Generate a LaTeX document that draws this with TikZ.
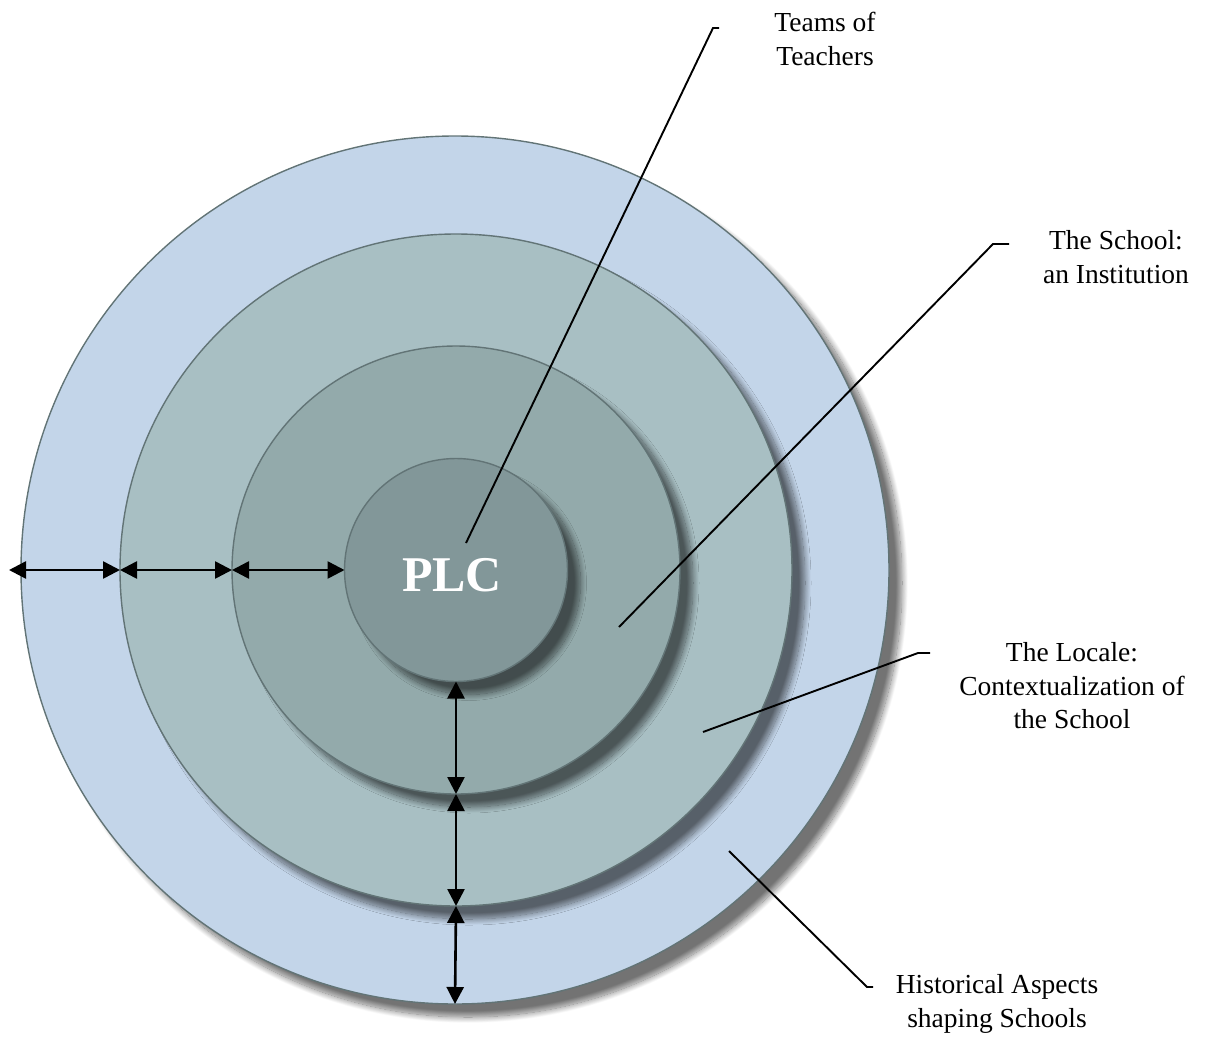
\documentclass[tikz,border=0pt]{standalone}
\usepackage{fontspec}
\setmainfont{Liberation Serif}
\usetikzlibrary{arrows.meta,shadows.blur}
\definecolor{ringA}{HTML}{C3D5E9}
\definecolor{ringB}{HTML}{A8BFC3}
\definecolor{ringC}{HTML}{93AAAB}
\definecolor{ringD}{HTML}{829799}
\definecolor{rim}{HTML}{627476}
\begin{document}
\begin{tikzpicture}[x=1pt,y=-1pt,
  ring/.style={circle, draw=rim, line width=1.4pt, inner sep=0pt, outer sep=0pt,
    blur shadow={shadow xshift=13pt, shadow yshift=-13pt, shadow blur radius=6pt,
      shadow blur steps=16, shadow opacity=55}},
  gap/.style={{Triangle[length=17pt,width=17pt]}-{Triangle[length=17pt,width=17pt]}, line width=2.6pt},
  leader/.style={line width=1.9pt},
  lbl/.style={font=\fontsize{27.5}{33.5}\selectfont, align=center, inner sep=0pt}]
\useasboundingbox (0,0) rectangle (1215,1036);
\node[ring, fill=ringA, minimum size=868pt] (c1) at (455,570) {};
\node[ring, fill=ringB, minimum size=672pt] (c2) at (456,570) {};
\node[ring, fill=ringC, minimum size=448pt] (c3) at (456,570) {};
\node[ring, fill=ringD, minimum size=223pt] (c4) at (456,570) {};
\node[font=\fontsize{50}{50}\selectfont\bfseries, text=white, inner sep=0pt] (plc) at (452,575) {PLC};
% gap arrows
\draw[gap, shorten <=-12pt] (c1.west) -- (c2.west);
\draw[gap] (c2.west) -- (c3.west);
\draw[gap] (c3.west) -- (c4.west);
\draw[gap] (c4.south) -- (c3.south);
\draw[gap] (c3.south) -- (c2.south);
\draw[gap] (c2.south) -- (c1.south);
% leaders and labels
\coordinate (tA) at (466,543); \coordinate (tB) at (713,28); \coordinate (tC) at (719,28);
\draw[leader] (tA) -- (tB) -- (tC);
\node[lbl] (teams) at (825,39) {Teams of\\Teachers};
\coordinate (sA) at (619,627); \coordinate (sB) at (993,244); \coordinate (sC) at (1009,244);
\draw[leader] (sA) -- (sB) -- (sC);
\node[lbl] (school) at (1116,257) {The School:\\an Institution};
\coordinate (lA) at (703,732); \coordinate (lB) at (918,653); \coordinate (lC) at (930,653);
\draw[leader] (lA) -- (lB) -- (lC);
\node[lbl] (locale) at (1072,686) {The Locale:\\Contextualization of\\the School};
\coordinate (hA) at (729,851); \coordinate (hB) at (867,987); \coordinate (hC) at (873,987);
\draw[leader] (hA) -- (hB) -- (hC);
\node[lbl] (hist) at (997,1004) {Historical Aspects\\shaping Schools};
\end{tikzpicture}
\end{document}
